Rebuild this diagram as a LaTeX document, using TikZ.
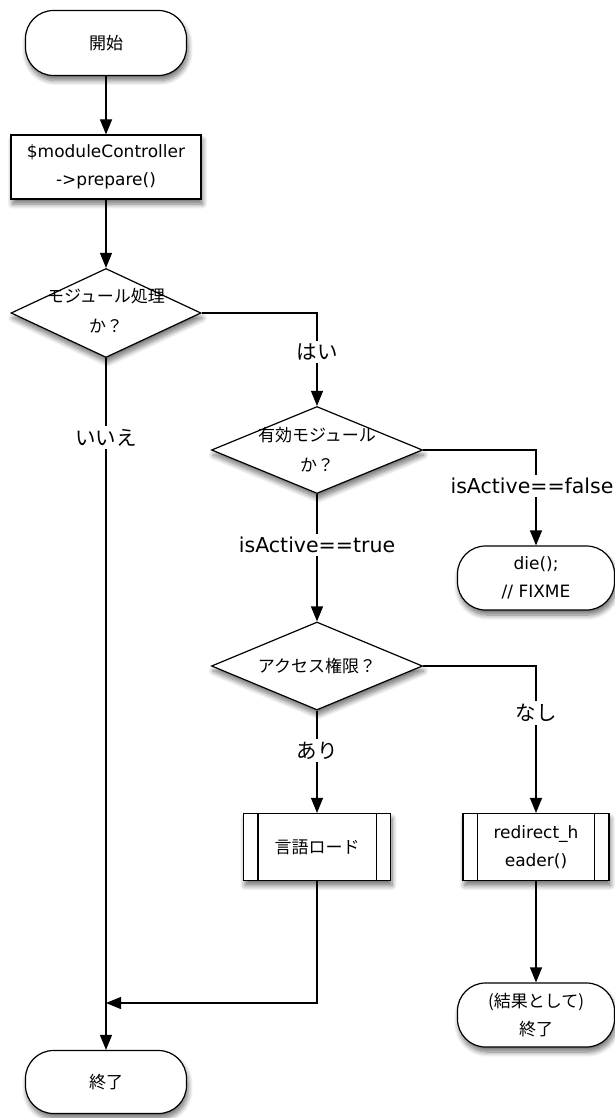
\documentclass[tikz,border=0pt]{standalone}
\usepackage{fontspec}
\setmainfont{DejaVu Sans}
\newfontfamily\jpfont{Noto Sans CJK JP}
\newcommand\nodefont{\fontsize{17}{28}\selectfont}
\newcommand\lblfont{\fontsize{20.5}{24}\selectfont}
\usetikzlibrary{shapes.geometric,arrows.meta,shadows.blur}

\begin{document}
\begin{tikzpicture}[x=1pt,y=-1pt,
soft/.style={blur shadow={shadow xshift=1.5pt,shadow yshift=-5pt,shadow opacity=55,shadow blur steps=8,shadow blur radius=5pt}},
terminal/.style={draw,fill=white,line width=1.2pt,rounded corners=28pt,minimum width=161pt,minimum height=65pt,align=center,font=\nodefont,soft},
box/.style={draw,fill=white,line width=1.2pt,minimum width=190pt,minimum height=64pt,align=center,font=\nodefont,soft},
process/.style={draw,fill=white,line width=1.2pt,minimum width=147pt,minimum height=67pt,align=center,font=\nodefont,soft},
decision/.style={diamond,draw,fill=white,line width=1.2pt,minimum width=190pt,minimum height=89pt,inner sep=0pt,soft},
dtext/.style={align=center,inner sep=0pt,font=\fontsize{17}{30}\selectfont\jpfont},
jp/.style={font=\nodefont\jpfont},
lbl/.style={fill=white,inner sep=3pt,font=\lblfont},
jplbl/.style={lbl,font=\lblfont\jpfont},
flow/.style={line width=1.2pt,-{Triangle[length=15pt,width=12pt]}}]
\useasboundingbox (0,0) rectangle (614,1118);
\node (start) at (106,43) [terminal,jp] {開始};
\node (prep) at (106,167) [box] {\$moduleController\\->prepare()};
\node (mod) at (106,313) [decision] {};
\node (modtxt) at (106,311) [dtext] {モジュール処理\\か？};
\node (act) at (317,450) [decision,minimum width=211pt,minimum height=87pt] {};
\node (acttxt) at (317,450) [dtext] {有効モジュール\\か？};
\node (die) at (536,578) [terminal,minimum width=157pt,minimum height=64pt] {die();\\// FIXME};
\node (perm) at (317,666) [decision,minimum width=211pt,minimum height=88pt] {};
\node (permtxt) at (317,666) [dtext] {アクセス権限？};
\node (lang) at (317,847) [process,jp] {言語ロード};
\node (redir) at (536,847) [process,minimum width=146pt] {redirect\_h\\eader()};
\node (endR) at (536,1015) [terminal,jp,minimum width=157pt,minimum height=64pt] {(結果として)\\終了};
\node (endL) at (106,1082) [terminal,jp,minimum height=63pt] {終了};
\coordinate (join) at (106,1003);
\foreach \p in {lang,redir}
  \draw[line width=1.2pt] ([xshift=15pt]\p.north west) -- ([xshift=15pt]\p.south west)
    ([xshift=-15pt]\p.north east) -- ([xshift=-15pt]\p.south east);
\draw[flow] (start) -- (prep);
\draw[flow] (prep) -- (mod);
\draw[flow] (mod.east) -| node[jplbl,pos=0.71] {はい} (act.north);
\draw[flow] (mod.south) -- node[jplbl,pos=0.115] {いいえ} (endL);
\draw[flow] (act.east) -| node[lbl,pos=0.69,xshift=-4pt] {isActive==false} (die.north);
\draw[flow] (act.south) -- node[lbl,pos=0.4] {isActive==true} (perm.north);
\draw[flow] (perm.east) -| node[jplbl,pos=0.66] {なし} (redir.north);
\draw[flow] (perm.south) -- node[jplbl,pos=0.39] {あり} (lang);
\draw[flow] (lang) |- (join);
\draw[flow] (redir) -- (endR);
\end{tikzpicture}
\end{document}
